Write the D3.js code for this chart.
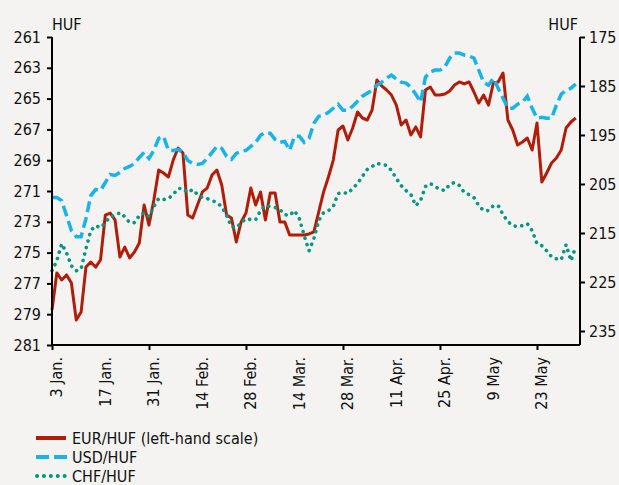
<!DOCTYPE html>
<html><head><meta charset="utf-8">
<script src="https://cdn.jsdelivr.net/npm/d3@7"></script>
<style>
html,body{margin:0;padding:0;background:#f5f3f1;}
svg{display:block;font-family:"DejaVu Sans Condensed","DejaVu Sans",sans-serif;}
</style></head><body>
<svg id="c" width="619" height="485"></svg>
<script>
// x categories: business-day index with date labels every 10 days
const tickLabels = ["3 Jan.","17 Jan.","31 Jan.","14 Feb.","28 Feb.","14 Mar.","28 Mar.","11 Apr.","25 Apr.","9 May","23 May"];
const tickIndex = [0,10,20,30,40,50,60,70,80,90,100];
const leftTicks = [261,263,265,267,269,271,273,275,277,279,281];
const rightTicks = [175,185,195,205,215,225,235];

const eurHuf = [278.73,276.32,276.78,276.45,276.97,279.38,278.86,275.94,275.61,275.94,
275.48,272.56,272.43,272.88,275.29,274.64,275.35,274.96,274.38,271.91,
273.21,271.58,269.64,269.83,270.09,268.99,268.21,268.53,272.56,272.75,
271.91,271.06,270.81,269.96,269.64,270.61,272.56,272.75,274.31,273.01,
272.43,270.81,271.91,271.06,272.88,271.13,271.13,273.01,273.01,273.86,
273.86,273.86,273.86,273.79,273.66,272.36,271.06,270.09,268.99,267.04,
266.78,267.69,266.91,265.87,266.26,266.39,265.74,263.79,264.18,264.44,
264.77,265.42,266.71,266.39,267.36,266.84,267.49,264.44,264.25,264.77,
264.77,264.70,264.51,264.12,263.92,264.05,263.92,264.57,265.29,264.77,
265.42,263.99,263.92,263.34,266.39,267.04,268.01,267.82,267.56,268.34,
266.58,270.42,269.83,269.18,268.86,268.34,266.91,266.52,266.26];

const usdHuf = [207.77,207.77,208.38,211.45,214.52,215.75,215.75,212.07,207.36,206.13,
206.33,204.69,203.06,203.26,202.65,201.83,201.42,200.80,199.58,198.55,
199.78,198.14,195.68,195.27,198.14,198.14,197.94,198.55,200.19,200.80,
201.01,200.80,199.78,198.55,197.32,197.73,199.37,199.98,198.76,198.35,
198.14,197.32,196.50,195.07,194.46,194.66,195.89,196.50,196.30,198.14,
195.27,195.27,196.50,195.68,192.61,191.18,190.97,190.36,189.54,188.72,
189.95,189.95,189.13,188.11,187.08,186.47,185.85,184.83,184.22,183.40,
182.78,183.60,184.22,184.42,185.24,186.67,188.31,183.19,182.17,181.76,
181.76,181.14,179.30,178.28,178.28,178.69,178.89,179.30,181.76,184.22,
184.83,183.40,185.44,187.49,189.54,189.54,188.72,188.31,187.08,189.54,
191.59,191.38,191.59,191.59,188.93,186.67,185.85,185.44,184.63];

const chfHuf = [222.72,220.67,217.19,219.03,221.69,222.72,222.31,218.21,214.52,213.50,
213.91,212.89,211.66,211.45,210.84,211.66,212.89,212.89,211.45,210.84,
211.66,209.61,207.97,208.18,207.97,207.15,205.92,205.92,206.74,206.13,
207.15,207.77,207.97,208.38,208.79,209.61,211.45,213.71,213.91,212.89,
212.07,212.27,212.27,210.43,209.41,209.61,209.81,210.22,211.25,211.45,
210.43,212.07,215.55,218.62,216.16,212.48,210.84,210.43,209.61,206.95,
206.74,206.95,205.92,204.90,203.47,202.03,201.42,200.80,201.01,201.21,
202.24,203.88,205.31,206.33,207.15,209.41,208.38,205.51,204.90,205.51,
206.13,206.33,205.10,204.69,205.31,206.74,207.15,207.77,209.41,210.43,
210.43,209.41,209.41,211.25,212.68,213.50,213.71,213.50,213.09,214.52,
217.19,217.60,218.62,219.85,220.26,220.46,217.39,220.67,217.80];

const legendItems = ["EUR/HUF (left-hand scale)","USD/HUF","CHF/HUF"];

const RED="#b01e0a", BLUE="#18b4e6", TEAL="#00967f";
const svg = d3.select("#c");
const L=52, R=580, T=37, B=345;

const x = d3.scaleLinear().domain([0,108.87]).range([L,R]);
const yL = d3.scaleLinear().domain([261,281]).range([T,B]);
const yR = d3.scaleLinear().domain([175,237.86]).range([T,B]);

// series
const idx = d3.range(eurHuf.length);
const lineL = d3.line().x(i=>x(i)).y(i=>yL(eurHuf[i]));
const lineU = d3.line().x(i=>x(i)).y(i=>yR(usdHuf[i]));
const lineC = d3.line().x(i=>x(i)).y(i=>yR(chfHuf[i]));

svg.append("path").attr("d",lineL(idx)).attr("fill","none").attr("stroke",RED)
  .attr("stroke-width",3).attr("stroke-linejoin","round");
svg.append("path").attr("d",lineU(idx)).attr("fill","none").attr("stroke",BLUE)
  .attr("stroke-width",3.5).attr("stroke-dasharray","11 5");
svg.append("path").attr("d",lineC(idx)).attr("fill","none").attr("stroke",TEAL)
  .attr("stroke-width",3.6).attr("stroke-linecap","round").attr("stroke-dasharray","0.1 6.6");

// axes
const fs = 16;
const axL = svg.append("g").attr("transform",`translate(${L},0)`)
  .call(d3.axisLeft(yL).tickValues(leftTicks).tickSize(5).tickPadding(6));
const axR = svg.append("g").attr("transform",`translate(${R},0)`)
  .call(d3.axisRight(yR).tickValues(rightTicks).tickSize(5).tickPadding(4));
const axB = svg.append("g").attr("transform",`translate(0,${B})`)
  .call(d3.axisBottom(x).tickValues(tickIndex).tickSize(5).tickFormat((d,i)=>tickLabels[i]));
[axL,axR,axB].forEach(a=>{
  a.select(".domain").attr("stroke","#000").attr("stroke-width",2);
  a.selectAll(".tick line").attr("stroke","#000").attr("stroke-width",2);
  a.selectAll("text").attr("font-size",fs).attr("fill","#111")
    .attr("font-family","DejaVu Sans Condensed, DejaVu Sans, sans-serif");
});
axL.select(".domain").attr("d",`M0,${T}V${B}`);
axR.select(".domain").attr("d",`M0,${T}V${B}`);
axB.select(".domain").attr("d",`M${L},0H${R}`);
axB.selectAll(".tick").each(function(d){
  const t=d3.select(this);
  if(d%20!==0) t.select("line").remove();
  t.select("text").attr("transform","rotate(-90)").attr("text-anchor","end")
    .attr("x",-12).attr("y",4).attr("dy","0.35em");
});

svg.append("text").attr("x",L).attr("y",30).attr("font-size",fs).attr("fill","#111").text("HUF");
svg.append("text").attr("x",R-2).attr("y",30).attr("text-anchor","end").attr("font-size",fs).attr("fill","#111").text("HUF");

// legend
const lg = svg.append("g");
const ly = [438,457,476];
lg.append("line").attr("x1",36).attr("x2",66).attr("y1",ly[0]).attr("y2",ly[0]).attr("stroke",RED).attr("stroke-width",4);
lg.append("line").attr("x1",36).attr("x2",67).attr("y1",ly[1]).attr("y2",ly[1]).attr("stroke",BLUE).attr("stroke-width",4).attr("stroke-dasharray","13 5");
lg.append("line").attr("x1",37).attr("x2",66).attr("y1",ly[2]).attr("y2",ly[2]).attr("stroke",TEAL).attr("stroke-width",4).attr("stroke-linecap","round").attr("stroke-dasharray","0.1 6.8");
legendItems.forEach((t,i)=>{
  lg.append("text").attr("x",72).attr("y",ly[i]+6).attr("font-size",fs).attr("fill","#111").text(t);
});
</script></body></html>
